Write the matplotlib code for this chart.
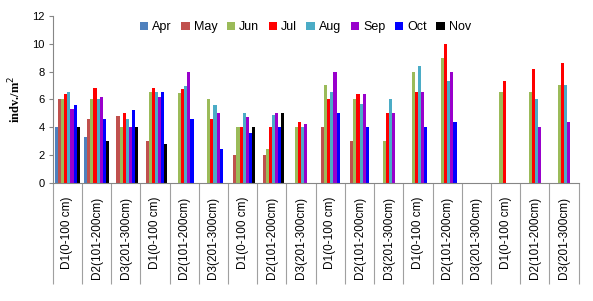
import matplotlib
matplotlib.use('Agg')
import matplotlib.pyplot as plt
import numpy as np

plt.rcParams['font.family'] = ['Liberation Sans', 'DejaVu Sans']

# category labels (6 repeats of the 3 depth classes)
depths = ['D1(0-100 cm)', 'D2(101-200cm)', 'D3(201-300cm)']
categories = depths * 6

months = ['Apr', 'May', 'Jun', 'Jul', 'Aug', 'Sep', 'Oct', 'Nov']
colors = ['#4F81BD', '#C0504D', '#9BBB59', '#FF0000', '#4BACC6', '#9900CC', '#0000FF', '#000000']

# values (0 = no bar)
apr = [4.0, 3.3, 0, 0, 0, 0, 0, 0, 0, 0, 0, 0, 0, 0, 0, 0, 0, 0]
may = [6.0, 4.6, 4.8, 3.0, 0, 0, 2.0, 2.0, 0, 4.0, 3.0, 0, 0, 0, 0, 0, 0, 0]
jun = [6.0, 6.0, 4.0, 6.55, 6.45, 6.0, 4.0, 2.4, 4.0, 7.0, 6.0, 3.0, 8.0, 9.0, 0, 6.55, 6.55, 7.0]
jul = [6.35, 6.85, 5.0, 6.85, 6.75, 4.6, 4.0, 4.0, 4.35, 6.0, 6.35, 5.0, 6.55, 10.0, 0, 7.3, 8.2, 8.6]
aug = [6.55, 6.05, 4.6, 6.55, 6.95, 5.6, 5.0, 4.9, 4.0, 6.55, 5.65, 6.0, 8.4, 7.3, 0, 0, 6.0, 7.0]
sep = [5.3, 6.2, 4.0, 6.2, 8.0, 5.0, 4.7, 5.0, 4.2, 8.0, 6.35, 5.0, 6.55, 8.0, 0, 0, 4.0, 4.35]
oct_ = [5.6, 4.6, 5.2, 6.55, 4.6, 2.4, 3.6, 4.0, 0, 5.0, 4.0, 0, 4.0, 4.35, 0, 0, 0, 0]
nov = [4.0, 3.0, 4.0, 2.8, 0, 0, 4.0, 5.0, 0, 0, 0, 0, 0, 0, 0, 0, 0, 0]
series = [apr, may, jun, jul, aug, sep, oct_, nov]

fig = plt.figure(figsize=(5.93, 3.01), dpi=100)
ax = fig.add_axes([0.0889, 0.393, 0.887, 0.554])

x = np.arange(len(categories))
w = 0.106
for i, (vals, c, m) in enumerate(zip(series, colors, months)):
    ax.bar(x + (i - 3.5) * w, vals, width=w, color=c, label=m, linewidth=0)

ax.set_xlim(-0.5, len(categories) - 0.5)
ax.set_ylim(0, 12)
ax.set_yticks(range(0, 13, 2))
ax.tick_params(axis='y', labelsize=8, length=3, color='#868686', pad=3)

ax.set_xticks(x)
ax.set_xticklabels(categories, rotation=90, va='top', fontsize=8.5)
ax.tick_params(axis='x', which='major', length=0, pad=10)
ax.set_xticks(np.arange(-0.5, len(categories)), minor=True)
ax.tick_params(axis='x', which='minor', length=73, color='#A0A0A0', width=0.8)

for s in ['top', 'right']:
    ax.spines[s].set_visible(False)
for s in ['left', 'bottom']:
    ax.spines[s].set_color('#868686')

ax.set_ylabel('indv./m$^2$', fontsize=9, fontweight='bold', family='Liberation Serif', labelpad=6)

ax.legend(loc='upper center', bbox_to_anchor=(0.48, 1.035), ncol=8, frameon=False,
          fontsize=9, handlelength=0.7, handleheight=0.7, handletextpad=0.3, columnspacing=0.75)

fig.savefig('out.png', dpi=100)
